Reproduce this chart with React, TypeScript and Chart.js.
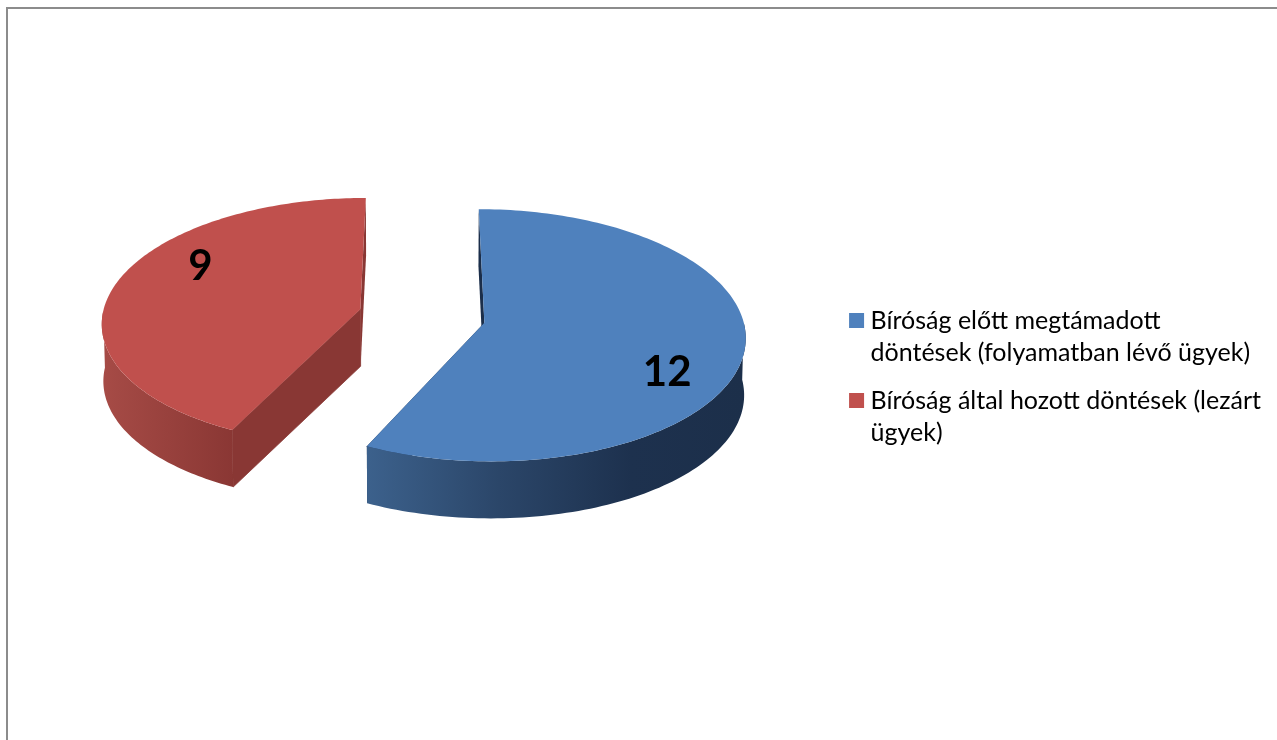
import React, { useEffect, useRef } from "react";
import { Chart, registerables } from "chart.js";

Chart.register(...registerables);

const legendLines: string[][] = [
  ["Bíróság előtt megtámadott", "döntések (folyamatban lévő ügyek)"],
  ["Bíróság által hozott döntések (lezárt", "ügyek)"],
];
const categories = legendLines.map((l) => l.join(" "));
const values = [12, 9];
const faceColors = ["#4f81bd", "#c0504d"];
const cutColors = ["#1b2e4a", "#893734"];
const rimStops: [number, string][][] = [
  [[0, "#3c618c"], [0.35, "#2b4669"], [0.7, "#1d314e"], [1, "#1c2f4a"]],
  [[0, "#a64b46"], [1, "#8a3734"]],
];

// View of the tilted pie
const VIEW = {
  x: 422,
  widen: 0.9925,
  horizon: -941,
  lift: 1257,
  persp: 0.000378,
  radius: 260,
  depth: 57,
  shrink: 0.005,
  labelTurn: (16.5 * Math.PI) / 180,
  labelRadius: 0.76,
  labelShiftX: 2,
  labelShiftY: 1,
};

const pie3d = {
  id: "pie3d",
  beforeDatasetDraw(chart: any, args: any) {
    const ctx = chart.ctx;
    const arcs = chart.getDatasetMeta(args.index).data;

    const setup = (arc: any) => {
      const k = VIEW.radius / arc.outerRadius;
      const mid = (arc.startAngle + arc.endAngle) / 2;
      const off = arc.options.offset;
      const top = (a: number, r: number) => {
        const u = (r * Math.cos(a) + off * Math.cos(mid)) * k;
        const w = (r * Math.sin(a) + off * Math.sin(mid)) * k;
        const s = 1 / (1 - w * VIEW.persp);
        return [VIEW.x + u * s * VIEW.widen, VIEW.horizon + VIEW.lift * s];
      };
      const low = (a: number, r: number) => {
        const p = top(a, r);
        return [VIEW.x + (p[0] - VIEW.x) * (1 - VIEW.shrink), p[1] + VIEW.depth];
      };
      const samples: number[] = [];
      const n = 160;
      for (let i = 0; i <= n; i++) samples.push(arc.startAngle + ((arc.endAngle - arc.startAngle) * i) / n);
      return { top, low, samples, R: arc.outerRadius, mid };
    };

    const poly = (pts: number[][], fill: any, seal = false) => {
      ctx.beginPath();
      pts.forEach((p, i) => (i ? ctx.lineTo(p[0], p[1]) : ctx.moveTo(p[0], p[1])));
      ctx.closePath();
      ctx.fillStyle = fill;
      ctx.fill();
      if (seal) {
        ctx.strokeStyle = fill;
        ctx.lineWidth = 0.8;
        ctx.stroke();
      }
    };

    ctx.save();
    arcs.forEach((arc: any, i: number) => {
      const { top, low, samples, R } = setup(arc);
      const first = samples[0];
      const last = samples[samples.length - 1];
      const wall = (a: number) => [top(a, 0), top(a, R), low(a, R), low(a, 0)];
      // the wall at the end of the slice lies behind the rim
      poly(wall(last), cutColors[i]);
      // outer rim: only the part that faces the viewer
      const front = samples.filter((a) => Math.sin(a) >= 0);
      const rim = [...front.map((a) => top(a, R)), ...front.slice().reverse().map((a) => low(a, R))];
      const xs = front.map((a) => low(a, R)[0]);
      const g = ctx.createLinearGradient(Math.min(...xs), 0, Math.max(...xs), 0);
      rimStops[i].forEach(([o, c]) => g.addColorStop(o, c));
      poly(rim, g);
      // the wall at the start of the slice lies in front of it
      poly(wall(first), cutColors[i], i === 1);
    });
    arcs.forEach((arc: any) => {
      const { top, samples, R } = setup(arc);
      poly([top(0, 0), ...samples.map((a) => top(a, R))], arc.options.backgroundColor);
    });
    ctx.fillStyle = "#000";
    ctx.font = "bold 42px Lato";
    ctx.textAlign = "center";
    ctx.textBaseline = "middle";
    arcs.forEach((arc: any, i: number) => {
      const { top, R, mid } = setup(arc);
      const p = top(mid + VIEW.labelTurn, R * VIEW.labelRadius);
      ctx.fillText(String(values[i]), p[0] + VIEW.labelShiftX, p[1] + VIEW.labelShiftY);
    });
    ctx.restore();
    return false;
  },
};

export default function App() {
  const ref = useRef<HTMLCanvasElement>(null);
  useEffect(() => {
    const chart = new Chart(ref.current!, {
      type: "pie",
      data: {
        labels: categories,
        datasets: [{ data: values, backgroundColor: faceColors, offset: 79, borderWidth: 0 }],
      },
      plugins: [pie3d],
      options: {
        animation: false,
        responsive: false,
        devicePixelRatio: 1,
        layout: { padding: { top: 20, right: 6 } },
        plugins: {
          tooltip: { enabled: false },
          title: { display: false },
          legend: {
            position: "right",
            labels: {
              color: "#000",
              boxWidth: 3,
              boxHeight: 3,
              padding: 16,
              font: { family: "Lato", size: 25, lineHeight: 1.28 },
              generateLabels: () =>
                legendLines.map((text, i) => ({
                  text,
                  fillStyle: faceColors[i],
                  strokeStyle: faceColors[i],
                  lineWidth: 12,
                  index: i,
                  hidden: false,
                })),
            },
          },
        },
      },
    } as any);
    return () => chart.destroy();
  }, []);
  return (
    <div style={{ position: "fixed", inset: 0, overflow: "hidden", background: "#fff" }}>
      <div
        style={{
          position: "absolute",
          left: 6,
          top: 7,
          width: 2000,
          height: 2000,
          border: "2px solid #8c8c8c",
        }}
      />
      <canvas ref={ref} width={1277} height={740} style={{ position: "absolute", left: 0, top: 0 }} />
    </div>
  );
}
